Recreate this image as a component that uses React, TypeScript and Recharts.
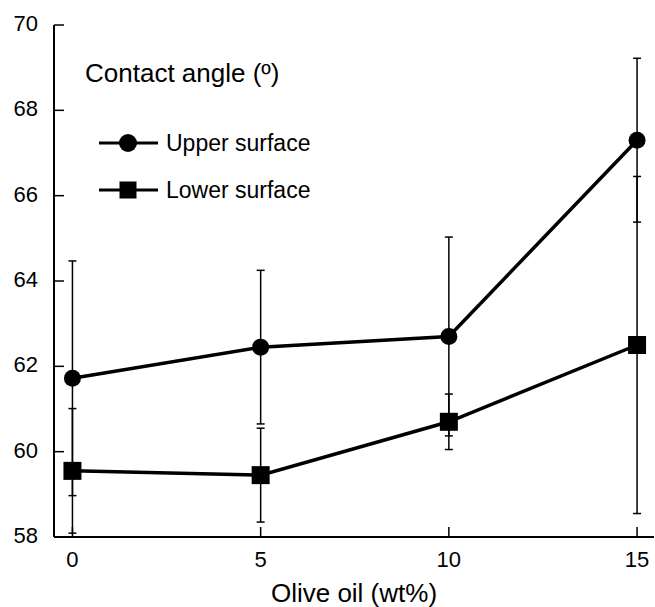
import React from 'react';
import {
  ComposedChart,
  Line,
  XAxis,
  YAxis,
  ErrorBar,
  Legend,
} from 'recharts';

// olive oil content (wt%)
const oilContent = [0, 5, 10, 15];

// contact angle, upper surface (mean and +/- sd)
const upperAngle = [61.72, 62.45, 62.7, 67.3];
const upperErr = [2.75, 1.8, 2.33, 1.92];

// contact angle, lower surface
const lowerAngle = [59.55, 59.45, 60.7, 62.5];
const lowerErr = [1.46, 1.1, 0.65, 3.95];

const xTicks = [0, 5, 10, 15];
const yTicks = [58, 60, 62, 64, 66, 68, 70];

const FONT = '"Liberation Sans", Arial, Helvetica, sans-serif';

const data = oilContent.map((x, i) => ({
  x,
  upper: upperAngle[i],
  upperErr: upperErr[i],
  lower: lowerAngle[i],
  lowerErr: lowerErr[i],
}));

// ticks point into the plot on every side
const LeftTick = (props: any) => {
  const { x, y, payload } = props;
  return (
    <g>
      <line x1={x} y1={y} x2={x + 10} y2={y} stroke="#000" strokeWidth={1.5} />
      <text x={x - 16} y={y} dy={6} textAnchor="end" fontSize={22} fontFamily={FONT} fill="#000">
        {payload.value}
      </text>
    </g>
  );
};

const RightTick = (props: any) => {
  const { x, y } = props;
  return <line x1={x - 10} y1={y} x2={x} y2={y} stroke="#000" strokeWidth={1.5} />;
};

const BottomTick = (props: any) => {
  const { x, y, payload } = props;
  return (
    <g>
      <line x1={x} y1={y - 10} x2={x} y2={y} stroke="#000" strokeWidth={1.5} />
      <text x={x} y={y} dy={30} textAnchor="middle" fontSize={22} fontFamily={FONT} fill="#000">
        {payload.value}
      </text>
    </g>
  );
};

const TopTick = (props: any) => {
  const { x, y } = props;
  return <line x1={x} y1={y} x2={x} y2={y + 10} stroke="#000" strokeWidth={1.5} />;
};

const SquareDot = (props: any) => {
  const { cx, cy, index } = props;
  if (cx == null || cy == null) return null;
  return <rect key={`sq-${index}`} x={cx - 9} y={cy - 9} width={18} height={18} fill="#000" />;
};

const LegendBox = () => (
  <svg width={340} height={210} style={{ display: 'block' }}>
    <text x={85} y={82} fontSize={26} fontFamily={FONT} fill="#000">
      Contact angle (º)
    </text>
    <line x1={99} y1={143} x2={158} y2={143} stroke="#000" strokeWidth={3} />
    <circle cx={128} cy={143} r={9} fill="#000" />
    <text x={166} y={151} fontSize={23} fontFamily={FONT} fill="#000">
      Upper surface
    </text>
    <line x1={99} y1={190} x2={158} y2={190} stroke="#000" strokeWidth={3} />
    <rect x={119.5} y={181.5} width={17} height={17} fill="#000" />
    <text x={166} y={198} fontSize={23} fontFamily={FONT} fill="#000">
      Lower surface
    </text>
  </svg>
);

export default function App() {
  return (
    <div style={{ position: 'absolute', left: 0, top: 0, width: 655, height: 607, background: '#fff' }}>
      <ComposedChart
        width={655}
        height={607}
        data={data}
        margin={{ top: 25, right: 1, left: 0, bottom: 0 }}
      >
        <XAxis
          xAxisId="b"
          dataKey="x"
          type="number"
          domain={[-0.49, 15.45]}
          ticks={xTicks}
          height={70}
          tickSize={0}
          tickMargin={0}
          tickLine={false}
          tick={<BottomTick />}
          axisLine={{ stroke: '#000', strokeWidth: 2 }}
          label={{ value: 'Olive oil (wt%)', position: 'insideBottom', offset: 5, fontSize: 26, fontFamily: FONT, fill: '#000' }}
        />
        <XAxis
          xAxisId="t"
          orientation="top"
          dataKey="x"
          type="number"
          domain={[-0.49, 15.45]}
          ticks={xTicks}
          height={0}
          tickSize={0}
          tickMargin={0}
          tickLine={false}
          tick={<TopTick />}
          axisLine={{ stroke: '#000', strokeWidth: 2 }}
        />
        <YAxis
          yAxisId="l"
          type="number"
          domain={[58, 70]}
          ticks={yTicks}
          width={54}
          tickSize={0}
          tickMargin={0}
          tickLine={false}
          tick={<LeftTick />}
          axisLine={{ stroke: '#000', strokeWidth: 2 }}
        />
        <YAxis
          yAxisId="r"
          orientation="right"
          type="number"
          domain={[58, 70]}
          ticks={yTicks}
          width={0}
          tickSize={0}
          tickMargin={0}
          tickLine={false}
          tick={<RightTick />}
          axisLine={{ stroke: '#000', strokeWidth: 2 }}
        />
        <Legend
          layout="vertical"
          align="center"
          verticalAlign="middle"
          content={<LegendBox />}
          wrapperStyle={{ position: 'absolute', left: 0, top: 0, width: 340, height: 210 }}
        />
        <Line
          xAxisId="b"
          yAxisId="l"
          dataKey="lower"
          stroke="#000"
          strokeWidth={3.5}
          dot={<SquareDot />}
          activeDot={false}
          isAnimationActive={false}
        >
          <ErrorBar dataKey="lowerErr" direction="y" width={4} stroke="#000" strokeWidth={1.5} />
        </Line>
        <Line
          xAxisId="b"
          yAxisId="l"
          dataKey="upper"
          stroke="#000"
          strokeWidth={3.5}
          dot={{ r: 8.5, fill: '#000', stroke: 'none' }}
          activeDot={false}
          isAnimationActive={false}
        >
          <ErrorBar dataKey="upperErr" direction="y" width={4} stroke="#000" strokeWidth={1.5} />
        </Line>
      </ComposedChart>
    </div>
  );
}
